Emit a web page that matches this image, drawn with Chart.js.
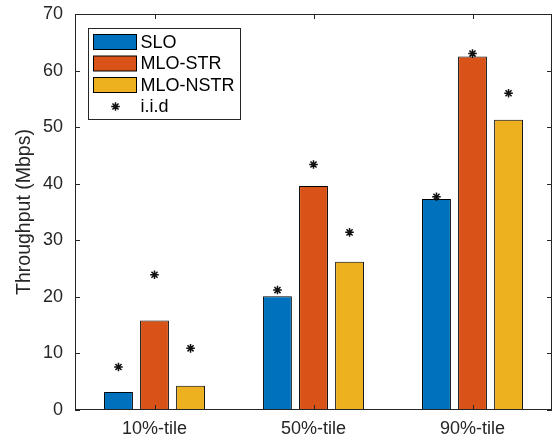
<!DOCTYPE html>
<html>
<head>
<meta charset="utf-8">
<script src="https://cdn.jsdelivr.net/npm/chart.js@4/dist/chart.umd.min.js"></script>
<style>
  html, body { margin: 0; padding: 0; background: #fff; }
  #wrap { width: 558px; height: 442px; }
</style>
</head>
<body>
<div id="wrap"><canvas id="c" width="558" height="442"></canvas></div>
<script>
// ---- data ----
const categories = ['10%-tile', '50%-tile', '90%-tile'];
const seriesNames = ['SLO', 'MLO-STR', 'MLO-NSTR'];
const sloValues = [3.2, 20.1, 37.3];
const mloStrValues = [15.8, 39.6, 62.5];
const mloNstrValues = [4.3, 26.2, 51.3];
const iidName = 'i.i.d';
const iidSlo = [7.6, 21.2, 37.7];
const iidStr = [23.9, 43.4, 63.0];
const iidNstr = [10.9, 31.4, 56.0];
const yTickValues = [0, 10, 20, 30, 40, 50, 60, 70];

// ---- styles ----
const colors = ['#0072BD', '#D95319', '#EDB120'];
const axisColor = '#262626';
const FONT = '"Liberation Sans", Arial, Helvetica, sans-serif';
const CAT_PCT = 0.68;
const BAR_PCT = 0.8;

const barValues = [sloValues, mloStrValues, mloNstrValues];
const iidValues = [iidSlo, iidStr, iidNstr];
const nSeries = barValues.length;

// bars at category index; stars at the centre of each grouped bar (index + group offset)
const datasets = barValues.map((vals, s) => ({
  type: 'bar',
  label: seriesNames[s],
  data: vals.map((v, i) => ({ x: i, y: v })),
  backgroundColor: colors[s],
  borderColor: '#000',
  borderWidth: 1,
  borderSkipped: false,
  categoryPercentage: CAT_PCT,
  barPercentage: BAR_PCT,
  order: 2
}));
const iidPoints = [];
iidValues.forEach((arr, s) => {
  arr.forEach((v, i) => {
    iidPoints.push({ x: i + (s - (nSeries - 1) / 2) * (CAT_PCT / nSeries), y: v });
  });
});
datasets.push({
  type: 'scatter',
  label: iidName,
  data: iidPoints,
  pointStyle: 'star',
  radius: 4.3,
  borderWidth: 1.5,
  borderColor: '#111',
  backgroundColor: '#111',
  showLine: false,
  order: 1
});

const boxPlugin = {
  id: 'matlabBox',
  afterDatasetsDraw(chart) {
    const ctx = chart.ctx;
    const a = chart.chartArea;
    const ys = chart.scales.y, xs = chart.scales.x;
    ctx.save();
    ctx.strokeStyle = axisColor;
    ctx.lineWidth = 1;
    ctx.strokeRect(Math.round(a.left) + 0.5, Math.round(a.top) + 0.5,
                   Math.round(a.right - a.left) - 1, Math.round(a.bottom - a.top) - 1);
    const tl = 5;
    ctx.beginPath();
    yTickValues.forEach(v => {
      const py = Math.round(ys.getPixelForValue(v)) + 0.5;
      ctx.moveTo(a.left, py); ctx.lineTo(a.left + tl, py);
      ctx.moveTo(a.right, py); ctx.lineTo(a.right - tl, py);
    });
    categories.forEach((c, i) => {
      const px = Math.round(xs.getPixelForValue(i)) + 0.5;
      ctx.moveTo(px, a.bottom); ctx.lineTo(px, a.bottom - tl);
      ctx.moveTo(px, a.top); ctx.lineTo(px, a.top + tl);
    });
    ctx.stroke();

    // legend
    const lx = a.left + 13.5, ly = a.top + 14.5, lw = 152, lh = 91;
    ctx.fillStyle = '#fff';
    ctx.fillRect(lx, ly, lw, lh);
    ctx.strokeStyle = axisColor;
    ctx.strokeRect(lx, ly, lw, lh);
    ctx.font = '18px ' + FONT;
    ctx.textBaseline = 'middle';
    ctx.textAlign = 'left';
    const rowH = 21.5;
    const names = seriesNames.concat([iidName]);
    names.forEach((name, r) => {
      const cy = ly + 13.5 + r * rowH;
      if (r < nSeries) {
        ctx.fillStyle = colors[r];
        ctx.fillRect(lx + 5, cy - 7.5, 43, 15);
        ctx.strokeStyle = '#000';
        ctx.lineWidth = 1;
        ctx.strokeRect(lx + 5, cy - 7.5, 43, 15);
      } else {
        ctx.strokeStyle = '#111';
        ctx.lineWidth = 1.5;
        const sx = lx + 27, r2 = 4.3;
        ctx.beginPath();
        ctx.moveTo(sx - r2, cy); ctx.lineTo(sx + r2, cy);
        ctx.moveTo(sx, cy - r2); ctx.lineTo(sx, cy + r2);
        const d = r2 * Math.SQRT1_2;
        ctx.moveTo(sx - d, cy - d); ctx.lineTo(sx + d, cy + d);
        ctx.moveTo(sx - d, cy + d); ctx.lineTo(sx + d, cy - d);
        ctx.stroke();
      }
      ctx.fillStyle = '#000';
      ctx.fillText(name, lx + 52, cy + 1);
    });
    ctx.restore();
  }
};

new Chart(document.getElementById('c'), {
  type: 'bar',
  data: { datasets },
  options: {
    responsive: false,
    animation: false,
    devicePixelRatio: 1,
    layout: { padding: { top: 14, right: 6, left: 0, bottom: 0 } },
    plugins: { legend: { display: false }, tooltip: { enabled: false } },
    scales: {
      x: {
        type: 'linear',
        min: -0.5,
        max: categories.length - 0.5,
        offset: false,
        grid: { display: false, drawTicks: false },
        border: { display: false },
        afterBuildTicks(s) { s.ticks = categories.map((c, i) => ({ value: i })); },
        ticks: {
          color: '#262626',
          font: { family: FONT, size: 18 },
          padding: 8,
          maxRotation: 0,
          autoSkip: false,
          callback: (v) => categories[v]
        },
        afterFit(s) { s.height = 32; s.paddingLeft = 0; s.paddingRight = 0; }
      },
      y: {
        type: 'linear',
        min: 0,
        max: 70,
        grid: { display: false, drawTicks: false },
        border: { display: false },
        afterBuildTicks(s) { s.ticks = yTickValues.map(v => ({ value: v })); },
        ticks: { color: '#262626', font: { family: FONT, size: 18 }, padding: 12 },
        title: {
          display: true,
          text: 'Throughput (Mbps)',
          color: '#262626',
          font: { family: FONT, size: 19.5 },
          padding: { top: 13, bottom: 0 }
        },
        afterFit(s) { s.width = 75; s.paddingTop = 0; s.paddingBottom = 0; }
      }
    }
  },
  plugins: [boxPlugin]
});
</script>
</body>
</html>
